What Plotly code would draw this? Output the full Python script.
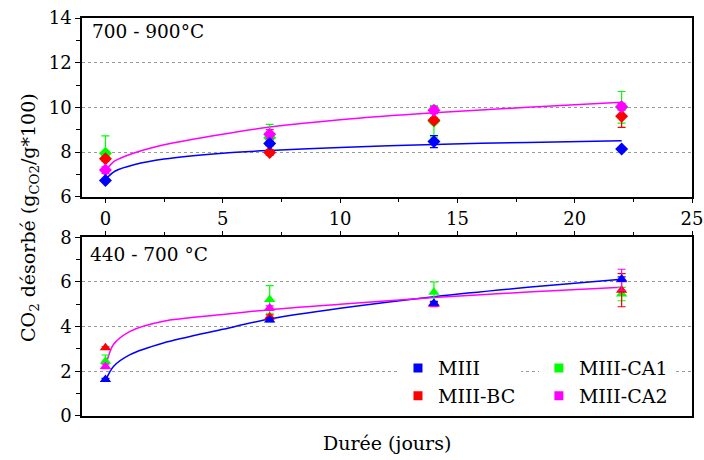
import plotly.graph_objects as go

# ---------------- data ----------------
days = [0, 7, 14, 22]

# 700 - 900 °C (top panel)
hi_miii = [6.73, 8.38, 8.47, 8.14]
hi_miii_err = [0.05, 0.10, 0.27, 0.05]
hi_bc = [7.70, 7.98, 9.42, 9.60]
hi_bc_err = [0.10, 0.12, 0.10, 0.50]
hi_ca1 = [7.94, 8.64, 9.38, 10.00]
hi_ca1_err = [0.78, 0.60, 0.70, 0.71]
hi_ca2 = [7.19, 8.80, 9.87, 10.03]
hi_ca2_err = [0.15, 0.20, 0.15, 0.15]

# 440 - 700 °C (bottom panel)
lo_miii = [1.63, 4.30, 5.05, 6.13]
lo_miii_err = [0.05, 0.08, 0.08, 0.10]
lo_bc = [3.05, 4.43, 5.00, 5.63]
lo_bc_err = [0.05, 0.10, 0.10, 0.74]
lo_ca1 = [2.45, 5.22, 5.54, 5.46]
lo_ca1_err = [0.28, 0.62, 0.46, 0.30]
lo_ca2 = [2.22, 4.83, 5.02, 6.10]
lo_ca2_err = [0.10, 0.10, 0.10, 0.47]

# fitted curves
fit_x_hi = [0.02, 0.4, 1.25, 2.5, 5, 7, 10, 14, 18, 22]
fit_hi_miii = [6.80, 7.14, 7.44, 7.69, 7.95, 8.07, 8.20, 8.34, 8.43, 8.51]
fit_hi_ca2 = [7.20, 7.60, 7.97, 8.33, 8.80, 9.12, 9.45, 9.76, 10.00, 10.23]

fit_x_lo = [0.02, 0.34, 1.05, 2.47, 5, 7, 10, 14, 18, 22]
fit_lo_miii = [1.63, 2.22, 2.75, 3.27, 3.88, 4.34, 4.82, 5.34, 5.76, 6.12]
fit_lo_ca2 = [2.30, 3.20, 3.79, 4.24, 4.54, 4.76, 5.00, 5.30, 5.55, 5.76]

names = ["MIII", "MIII-BC", "MIII-CA1", "MIII-CA2"]
colors = ["#0000ff", "#ff0000", "#00ff00", "#ff00ff"]

x_ticks = [0, 5, 10, 15, 20, 25]
hi_ticks = [6, 8, 10, 12, 14]
lo_ticks = [0, 2, 4, 6, 8]

panel_hi = "700 - 900°C"
panel_lo = "440 - 700 °C"

FONT = "DejaVu Serif"

fig = go.Figure()

hi_series = [(hi_miii, hi_miii_err), (hi_bc, hi_bc_err), (hi_ca1, hi_ca1_err), (hi_ca2, hi_ca2_err)]
lo_series = [(lo_miii, lo_miii_err), (lo_bc, lo_bc_err), (lo_ca1, lo_ca1_err), (lo_ca2, lo_ca2_err)]

# fit lines
for xs, ys, c, ax in [(fit_x_hi, fit_hi_miii, colors[0], "1"), (fit_x_hi, fit_hi_ca2, colors[3], "1"),
                      (fit_x_lo, fit_lo_miii, colors[0], "2"), (fit_x_lo, fit_lo_ca2, colors[3], "2")]:
    fig.add_trace(go.Scatter(x=xs, y=ys, mode="lines", line=dict(color=c, width=1.5, shape="spline", smoothing=0.8),
                             showlegend=False, hoverinfo="skip",
                             xaxis="x" if ax == "1" else "x2", yaxis="y" if ax == "1" else "y2"))

draw_order = [2, 1, 3, 0]
for i in draw_order:
    vals, err = hi_series[i]
    fig.add_trace(go.Scatter(x=days, y=vals, mode="markers",
                             marker=dict(symbol="diamond", size=10, color=colors[i]),
                             error_y=dict(type="data", array=err, color=colors[i], thickness=1.2, width=4),
                             showlegend=False, xaxis="x", yaxis="y"))
for i in draw_order:
    vals, err = lo_series[i]
    fig.add_trace(go.Scatter(x=days, y=vals, mode="markers",
                             marker=dict(symbol="triangle-up", size=10, color=colors[i]),
                             error_y=dict(type="data", array=err, color=colors[i], thickness=1.2, width=4),
                             showlegend=False, xaxis="x2", yaxis="y2"))

# legend entries (two columns)
for i in range(4):
    fig.add_trace(go.Scatter(x=[None], y=[None], mode="markers", name=names[i],
                             marker=dict(symbol="square", size=9, color=colors[i]),
                             legend="legend" if i < 2 else "legend2", xaxis="x2", yaxis="y2"))

axis_common = dict(showline=True, linecolor="black", linewidth=1.5, mirror=True,
                   ticks="outside", ticklen=5, tickwidth=1.2, tickcolor="black",
                   zeroline=False, automargin=False,
                   tickfont=dict(family=FONT, size=18, color="black"))
grid = dict(showgrid=True, gridcolor="#9a9a9a", griddash="dot", gridwidth=1)

fig.update_layout(
    width=704, height=460,
    margin=dict(l=82, r=12, t=18, b=44, autoexpand=False),
    paper_bgcolor="white", plot_bgcolor="white",
    font=dict(family=FONT, size=18, color="black"),
    xaxis=dict(domain=[0, 1], range=[-1, 25], tickvals=x_ticks, anchor="y", showgrid=False,
               minor=dict(dtick=2.5, ticks="outside", ticklen=4, tickcolor="black", showgrid=False),
               **axis_common),
    yaxis=dict(domain=[0.551, 1.0], range=[6, 14], tickvals=hi_ticks, anchor="x",
               minor=dict(dtick=1, ticks="outside", ticklen=4, tickcolor="black", showgrid=False),
               **grid, **axis_common),
    xaxis2=dict(domain=[0, 1], range=[-1, 25], tickvals=x_ticks, anchor="y2", side="top",
                showticklabels=False, showgrid=False, matches="x",
                minor=dict(dtick=2.5, ticks="outside", ticklen=4, tickcolor="black", showgrid=False),
                **axis_common),
    yaxis2=dict(domain=[0, 0.449], range=[0, 8], tickvals=lo_ticks, anchor="x2",
                minor=dict(dtick=1, ticks="outside", ticklen=4, tickcolor="black", showgrid=False),
                **grid, **axis_common),
    legend=dict(x=0.518, y=0.168, xanchor="left", yanchor="top", bgcolor="white",
                font=dict(family=FONT, size=19), itemwidth=30, tracegroupgap=0),
    legend2=dict(x=0.749, y=0.168, xanchor="left", yanchor="top", bgcolor="white",
                 font=dict(family=FONT, size=19), itemwidth=30, tracegroupgap=0),
    showlegend=True,
)

# panel labels
fig.add_annotation(text=panel_hi, xref="paper", yref="paper", x=0.013, y=0.965, xanchor="left", yanchor="middle",
                   showarrow=False, font=dict(family=FONT, size=18.5))
fig.add_annotation(text=panel_lo, xref="paper", yref="paper", x=0.010, y=0.405, xanchor="left", yanchor="middle",
                   showarrow=False, font=dict(family=FONT, size=18.5))
# axis titles
fig.add_annotation(text="CO<sub>2</sub> désorbé (g<sub>CO2</sub>/g*100)", xref="paper", yref="paper",
                   x=-0.087, y=0.5, xanchor="center", yanchor="middle", textangle=-90,
                   showarrow=False, font=dict(family=FONT, size=19))
fig.add_annotation(text="Durée (jours)", xref="paper", yref="paper", x=0.5, y=-0.068,
                   xanchor="center", yanchor="middle", showarrow=False, font=dict(family=FONT, size=19))

fig.write_html("out.html", config={"displayModeBar": False},
               post_script="document.body.style.margin='0px';document.body.style.overflow='hidden';")
